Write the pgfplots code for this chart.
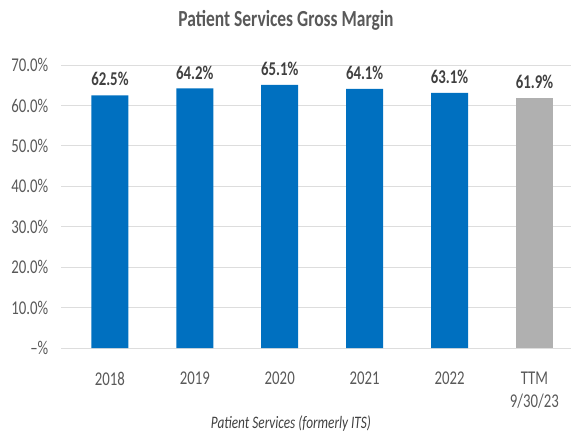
\documentclass[border=0pt]{standalone}
\usepackage{fontspec}
\setmainfont{Carlito}[FakeStretch=0.76]
\usepackage{pgfplots}
\pgfplotsset{compat=1.18}
\definecolor{barblue}{HTML}{0070C0}
\definecolor{bargray}{HTML}{B0B0B0}
\definecolor{txt}{HTML}{595959}
\definecolor{lbl}{HTML}{404040}
\definecolor{gridc}{HTML}{DDDDDD}
\begin{document}
\begin{tikzpicture}[x=1pt,y=1pt]
\path[use as bounding box] (0,0) rectangle (571,437);
\begin{axis}[
  at={(61.5pt,89pt)}, anchor=south west,
  scale only axis, width=509.5pt, height=283pt,
  xmin=-0.57, xmax=5.43, ymin=0, ymax=70,
  clip=false,
  axis line style={draw=none},
  major tick length=0pt,
  ymajorgrids, grid style={gridc, line width=1pt},
  ytick={0,10,20,30,40,50,60,70},
  yticklabels={--\%,10.0\%,20.0\%,30.0\%,40.0\%,50.0\%,60.0\%,70.0\%},
  xtick={0,1,2,3,4,5},
  xticklabels={2018,2019,2020,2021,2022,{TTM\\9/30/23}},
  ticklabel style={font=\fontsize{19.5}{23}\selectfont, text=txt},
  yticklabel style={anchor=east, inner sep=0pt, xshift=-13pt},
  xticklabel style={anchor=north, inner sep=0pt, yshift=-24pt, align=center},
  ybar, bar width=37pt,
  point meta=explicit symbolic,
  nodes near coords,
  nodes near coords style={font=\bfseries\fontsize{19.5}{22}\selectfont, text=lbl, inner sep=0pt, yshift=9pt, anchor=south},
]
\addplot[fill=barblue, draw=none, bar shift=0pt] coordinates {
  (0,62.5) [62.5\%]
  (1,64.2) [64.2\%]
  (2,65.1) [65.1\%]
  (3,64.1) [64.1\%]
  (4,63.1) [63.1\%]
};
\addplot[fill=bargray, draw=none, bar shift=0pt] coordinates {
  (5,61.9) [61.9\%]
};
\end{axis}
\node[font=\bfseries\fontsize{23}{26}\selectfont, text=txt] at (286,417) {Patient Services Gross Margin};
\node[font=\itshape\fontsize{17.5}{20}\selectfont, text=lbl] at (291,13) {Patient Services (formerly ITS)};
\end{tikzpicture}
\end{document}
